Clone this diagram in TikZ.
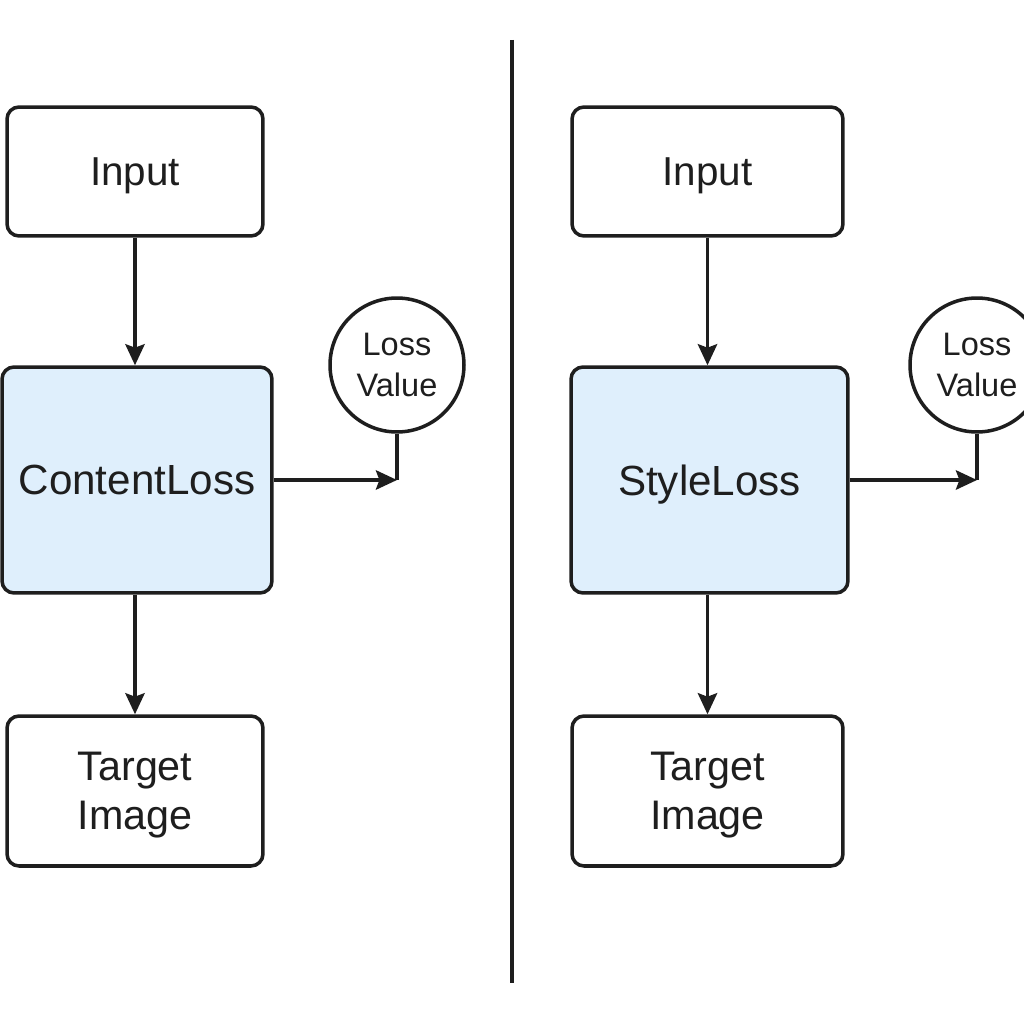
\documentclass[tikz,border=0pt]{standalone}
\usepackage{fontspec}
\setmainfont{Liberation Sans}
\usepackage{tikz}
\usetikzlibrary{positioning}
\usetikzlibrary{arrows.meta}
\usepackage{xcolor}
\definecolor{inkgray}{HTML}{1E1E1E}
\definecolor{lossblue}{HTML}{DFEFFC}

\begin{document}
\begin{tikzpicture}[x=0.02cm, y=-0.02cm,
  every node/.style={text=inkgray, align=center},
  plainbox/.style={draw=inkgray, line width=2pt, rounded corners=0.24cm, fill=white},
  lossbox/.style={plainbox, fill=lossblue, minimum height=4.52cm, text depth=0pt},
  valcircle/.style={draw=inkgray, line width=2pt, circle, minimum size=2.68cm, inner sep=0pt, font=\fontsize{18.5}{23}\selectfont},
  link/.style={draw=inkgray, line width=2pt, -{Stealth[length=12pt, width=11pt, inset=2pt]}}]
				    		\useasboundingbox (0,0) rectangle (1024,1024);
				    		% content side
				    		\node[plainbox, minimum width=5.12cm, minimum height=2.58cm, text depth=0pt, font=\fontsize{23}{27}\selectfont] (cin) at (135,171.5) {Input};
				    		\node[lossbox, minimum width=5.4cm, font=\fontsize{24}{28}\selectfont] (closs) at (137,480) {ContentLoss};
				    		\node[plainbox, minimum width=5.12cm, minimum height=3.0cm, text depth=0pt, font=\fontsize{23.5}{28}\selectfont] (ctarget) at (135,791) {Target\\Image};
				    		\node[valcircle] (cval) at (397,365) {Loss\\Value};
				    		\coordinate (ccorner) at (closs.east -| cval.south);
				    		\draw[link] (cin.south) -- (cin.south |- closs.north);
				    		\draw[link] (cin.south |- closs.south) -- (cin.south |- ctarget.north);
				    		\draw[link] (closs.east) -- (ccorner);
				    		\draw[draw=inkgray, line width=2pt] (cval.south) -- (ccorner);
				    		% divider
				    		\coordinate (dtop) at (512,40);
				    		\coordinate (dbot) at (512,983);
				    		\draw[draw=inkgray, line width=2pt] (dtop) -- (dbot);
				    		% style side
				    		\node[plainbox, minimum width=5.42cm, minimum height=2.58cm, text depth=0pt, font=\fontsize{23}{27}\selectfont] (sin) at (707.5,171.5) {Input};
				    		\node[lossbox, minimum width=5.54cm, font=\fontsize{24}{28}\selectfont] (sloss) at (709.5,480) {StyleLoss};
				    		\node[plainbox, minimum width=5.42cm, minimum height=3.0cm, text depth=0pt, font=\fontsize{23.5}{28}\selectfont] (starget) at (707.5,791) {Target\\Image};
				    		\node[valcircle] (sval) at (977,365) {Loss\\Value};
				    		\coordinate (scorner) at (sloss.east -| sval.south);
				    		\draw[link] (sin.south) -- (sin.south |- sloss.north);
				    		\draw[link] (sin.south |- sloss.south) -- (sin.south |- starget.north);
				    		\draw[link] (sloss.east) -- (scorner);
				    		\draw[draw=inkgray, line width=2pt] (sval.south) -- (scorner);
				    	\end{tikzpicture}
\end{document}
